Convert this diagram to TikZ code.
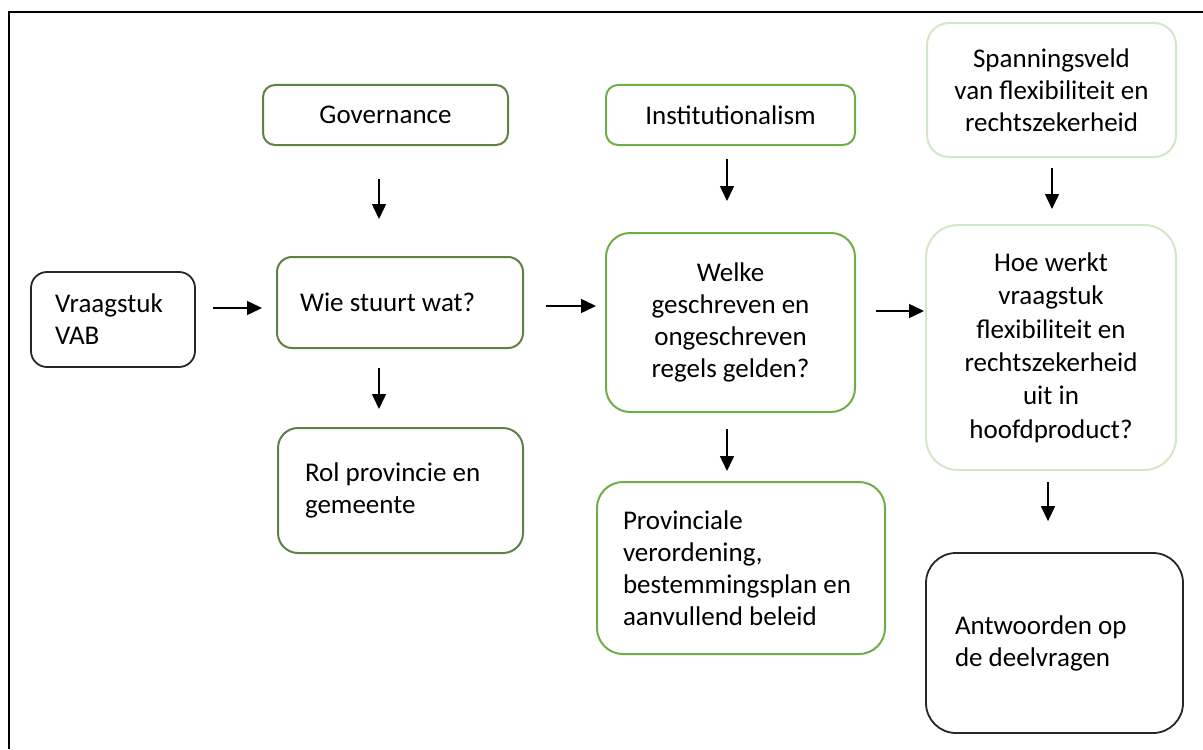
\documentclass[tikz,border=0pt]{standalone}
\usepackage{fontspec}
\setmainfont{Carlito}
\usetikzlibrary{arrows.meta}

\definecolor{govgreen}{HTML}{5E8243}
\definecolor{instgreen}{HTML}{70AD47}
\definecolor{palegreen}{HTML}{D3E7C6}

\tikzset{
    blok/.style={
        draw,
        rectangle,
        rounded corners=#1,
        line width=1pt,
        inner ysep=0pt,
        font=\fontsize{13.5}{16}\selectfont
    },
    blok/.default=8pt,
    links/.style 2 args={
        align=flush left,
        text width=#1,
        inner xsep=#2
    },
    gap/.style 2 args={
        shorten <=#1,
        shorten >=#2
    },
    pijl/.style={
        line width=0.75pt,
        -{Triangle[length=7.5pt,width=7pt]}
    }
}

\begin{document}
\begin{tikzpicture}[x=0.5pt, y=-0.5pt]
\useasboundingbox (0,0) rectangle (1203,749);
% frame
\draw[line width=1pt] (1203,12) -- (9,12) -- (9,749);

		\path
			node[blok, draw=black!85, line width=0.9pt, links={58pt}{12pt},
			     minimum width=82pt, minimum height=47.5pt] at (113,319.5) (vraag)
			     {Vraagstuk\\VAB}
			;
		\path
			node[blok=6pt, draw=govgreen, align=center,
			     minimum width=122.5pt, minimum height=30pt] at (385.5,115) (gov)
			     {Governance}
			node[blok=7.5pt, draw=govgreen, links={100pt}{11.5pt},
			     minimum width=123pt, minimum height=45.5pt] at (400,302.5) (wie)
			     {Wie stuurt wat?}
			node[blok=10pt, draw=govgreen, links={95.5pt}{13.5pt},
			     minimum width=122.5pt, minimum height=62.5pt] at (400.5,490.5) (rol)
			     {Rol provincie en\\gemeente}
			;
		\path
			node[blok=6pt, draw=instgreen, align=center,
			     minimum width=124.5pt, minimum height=30pt] at (730.5,115) (inst)
			     {Institutionalism}
			node[blok=12pt, draw=instgreen, align=center,
			     minimum width=124.5pt, minimum height=89.5pt] at (730.5,322.5) (welke)
			     {Welke\\geschreven en\\ongeschreven\\regels gelden?}
			node[blok=13pt, draw=instgreen, links={118pt}{13pt},
			     minimum width=144pt, minimum height=86pt] at (741,568) (prov)
			     {Provinciale\\verordening,\\bestemmingsplan en\\aanvullend beleid}
			;
		\path
			node[blok=11pt, draw=palegreen, align=center,
			     minimum width=124.5pt, minimum height=67pt] at (1051.5,90) (span)
			     {Spanningsveld\\van flexibiliteit en\\rechtszekerheid}
			node[blok=16pt, draw=palegreen, align=center,
			     font=\fontsize{13.5}{16.7}\selectfont,
			     minimum width=125pt, minimum height=122.5pt] at (1051,347.5) (hoe)
			     {Hoe werkt\\vraagstuk\\flexibiliteit en\\rechtszekerheid\\uit in\\hoofdproduct?}
			node[blok=15pt, draw=black!85, line width=0.9pt, links={99.5pt}{14.5pt},
			     minimum width=128.5pt, minimum height=90pt] at (1054.5,643) (antw)
			     {Antwoorden op\\de deelvragen}
			;

% arrow rows and columns
\coordinate (rijA) at (0,308);
\coordinate (rijB) at (0,306);
\coordinate (rijC) at (0,311);
\coordinate (kolA) at (379,0);
\coordinate (kolB) at (727,0);
\coordinate (kolC) at (1052,0);
\coordinate (kolD) at (1048,0);

		\path [pijl]
			(vraag.east |- rijA) edge[gap={8.5pt}{7pt}] (wie.west |- rijA)
			(wie.east |- rijB) edge[gap={11pt}{4.5pt}] (welke.west |- rijB)
			(welke.east |- rijC) edge[gap={10pt}{0.5pt}] (hoe.west |- rijC)
			;
		\path [pijl]
			(gov.south -| kolA) edge[gap={16.5pt}{18.5pt}] (wie.north -| kolA)
			(wie.south -| kolA) edge[gap={9.5pt}{9pt}] (rol.north -| kolA)
			(inst.south -| kolB) edge[gap={6.5pt}{15.5pt}] (welke.north -| kolB)
			(welke.south -| kolB) edge[gap={8pt}{5pt}] (prov.north -| kolB)
			(span.south -| kolC) edge[gap={5pt}{7.5pt}] (hoe.north -| kolC)
			(hoe.south -| kolD) edge[gap={5.5pt}{15.5pt}] (antw.north -| kolD)
			;
\end{tikzpicture}
\end{document}
